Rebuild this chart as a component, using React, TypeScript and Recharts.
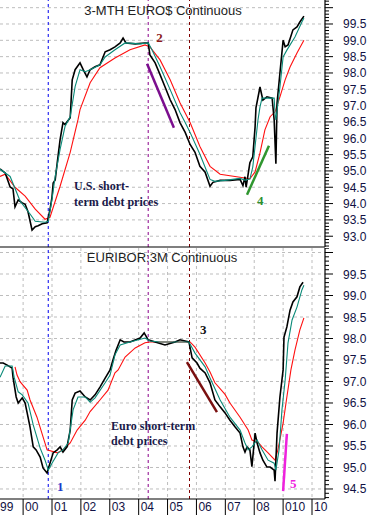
import React from 'react';
import { ComposedChart, Line, XAxis, YAxis, CartesianGrid, ReferenceLine, ReferenceDot } from 'recharts';

// ---------- data (t = decimal year, v = price) ----------
const usPrice = [
  [1999.2, 95.06], [1999.38, 94.94], [1999.55, 94.51], [1999.65, 94.45], [1999.72, 93.9], [1999.83, 94.11],
  [1999.97, 94.02], [2000.07, 93.98], [2000.17, 93.75], [2000.31, 93.19], [2000.42, 93.29], [2000.52, 93.32],
  [2000.66, 93.38], [2000.83, 93.41], [2000.93, 93.81], [2001.0, 94.2], [2001.04, 94.63], [2001.11, 94.72],
  [2001.18, 95.24], [2001.28, 95.96], [2001.38, 96.48], [2001.45, 96.42], [2001.63, 96.63], [2001.7, 97.79],
  [2001.8, 98.1], [2001.97, 98.31], [2002.08, 98.1], [2002.21, 97.88], [2002.32, 98.1], [2002.49, 98.19],
  [2002.66, 98.25], [2002.84, 98.65], [2003.01, 98.71], [2003.18, 98.8], [2003.36, 98.92], [2003.46, 99.07],
  [2003.56, 98.92], [2003.88, 98.89], [2004.22, 98.92], [2004.33, 98.92], [2004.39, 98.55], [2004.57, 98.31],
  [2004.74, 97.95], [2004.91, 97.58], [2005.09, 97.18], [2005.26, 96.88], [2005.43, 96.48], [2005.61, 96.18],
  [2005.78, 95.81], [2005.95, 95.57], [2006.12, 95.14], [2006.3, 94.96], [2006.47, 94.53], [2006.57, 94.65],
  [2006.82, 94.71], [2007.16, 94.71], [2007.51, 94.74], [2007.61, 94.55], [2007.68, 94.82], [2007.72, 94.5],
  [2007.85, 95.25], [2007.95, 95.43], [2008.03, 96.35], [2008.06, 96.93], [2008.2, 97.57], [2008.3, 97.17],
  [2008.44, 97.27], [2008.62, 97.23], [2008.69, 96.56], [2008.75, 95.22], [2008.79, 97.08], [2008.89, 98.0],
  [2009.0, 99.0], [2009.07, 98.8], [2009.17, 98.86], [2009.34, 99.32], [2009.48, 99.41], [2009.58, 99.56],
  [2009.72, 99.74],
];
const usFast = [
  [1999.2, 95.05], [1999.55, 94.83], [1999.9, 94.07], [2000.24, 93.68], [2000.42, 93.46], [2000.76, 93.43],
  [2000.87, 93.46], [2001.0, 94.13], [2001.11, 94.83], [2001.28, 95.66], [2001.45, 96.36], [2001.63, 96.66],
  [2001.8, 97.58], [2001.97, 98.1], [2002.15, 98.04], [2002.32, 98.1], [2002.66, 98.25], [2002.84, 98.49],
  [2003.18, 98.71], [2003.53, 98.92], [2004.05, 98.89], [2004.33, 98.92], [2004.46, 98.71], [2004.74, 98.19],
  [2005.09, 97.49], [2005.43, 96.79], [2005.61, 96.48], [2005.78, 96.18], [2006.12, 95.51], [2006.47, 94.74],
  [2006.64, 94.68], [2006.99, 94.71], [2007.51, 94.77], [2007.68, 94.72], [2007.85, 94.75], [2007.95, 95.12],
  [2008.13, 96.56], [2008.2, 96.96], [2008.27, 97.23], [2008.69, 97.23], [2008.72, 96.78], [2008.75, 96.56],
  [2008.89, 97.57], [2009.0, 98.49], [2009.13, 98.7], [2009.41, 99.1], [2009.65, 99.56], [2009.72, 99.68],
];
const usSlow = [
  [1999.2, 94.83], [1999.38, 94.9], [1999.72, 94.5], [2000.07, 94.23], [2000.42, 93.83], [2000.76, 93.52],
  [2000.93, 93.58], [2001.28, 94.53], [2001.63, 95.57], [2001.9, 96.57], [2001.97, 96.88], [2002.32, 97.7],
  [2002.66, 98.16], [2003.18, 98.46], [2003.7, 98.71], [2004.22, 98.86], [2004.39, 98.8], [2004.74, 98.4],
  [2005.09, 97.79], [2005.43, 97.09], [2005.78, 96.48], [2006.12, 95.75], [2006.47, 95.14], [2006.82, 94.9],
  [2007.16, 94.85], [2007.85, 94.76], [2008.03, 94.97], [2008.2, 95.55], [2008.37, 96.26], [2008.55, 96.66],
  [2008.72, 96.81], [2008.89, 97.27], [2009.07, 97.79], [2009.24, 98.18], [2009.48, 98.61], [2009.72, 99.0],
];
const euPrice = [
  [1999.2, 97.43], [1999.31, 97.43], [1999.45, 97.38], [1999.62, 97.31], [1999.65, 97.1], [1999.76, 96.64],
  [1999.83, 96.5], [1999.97, 96.62], [2000.07, 96.5], [2000.14, 96.27], [2000.24, 95.94], [2000.35, 95.48],
  [2000.45, 95.41], [2000.59, 95.24], [2000.69, 94.99], [2000.83, 94.87], [2000.93, 95.1], [2001.04, 95.34],
  [2001.18, 95.41], [2001.28, 95.48], [2001.38, 95.36], [2001.52, 95.48], [2001.63, 95.87], [2001.7, 96.57],
  [2001.8, 96.73], [2001.97, 96.78], [2002.15, 96.64], [2002.32, 96.57], [2002.49, 96.69], [2002.66, 96.87],
  [2002.84, 97.08], [2003.01, 97.27], [2003.11, 97.5], [2003.22, 97.73], [2003.36, 97.97], [2003.49, 97.92],
  [2003.7, 97.92], [2004.05, 98.01], [2004.19, 98.13], [2004.33, 97.97], [2004.57, 97.92], [2004.91, 97.85],
  [2005.26, 97.92], [2005.43, 97.97], [2005.74, 97.92], [2005.85, 97.55], [2006.02, 97.43], [2006.12, 97.31],
  [2006.3, 97.2], [2006.47, 96.97], [2006.64, 96.57], [2006.82, 96.41], [2006.99, 96.27], [2007.16, 96.1],
  [2007.34, 95.94], [2007.51, 95.8], [2007.61, 95.48], [2007.68, 95.36], [2007.75, 95.48], [2007.85, 95.41],
  [2007.92, 95.02], [2008.03, 95.8], [2008.1, 95.57], [2008.2, 95.34], [2008.3, 95.17], [2008.44, 95.01],
  [2008.55, 95.01], [2008.69, 94.94], [2008.72, 94.68], [2008.79, 95.8], [2008.89, 96.64], [2009.0, 97.27],
  [2009.03, 98.03], [2009.13, 98.27], [2009.24, 98.66], [2009.34, 98.85], [2009.48, 98.97], [2009.58, 99.2],
  [2009.69, 99.31],
];
const euFast = [
  [1999.2, 97.1], [1999.38, 97.36], [1999.62, 97.36], [1999.69, 97.1], [1999.83, 96.76], [1999.97, 96.69],
  [2000.17, 96.5], [2000.35, 95.99], [2000.59, 95.45], [2000.76, 95.17], [2000.87, 94.94], [2001.0, 95.1],
  [2001.21, 95.34], [2001.38, 95.41], [2001.56, 95.57], [2001.73, 96.34], [2001.9, 96.64], [2002.15, 96.64],
  [2002.32, 96.52], [2002.49, 96.62], [2002.84, 96.97], [2003.01, 97.15], [2003.18, 97.62], [2003.36, 97.85],
  [2003.7, 97.92], [2004.22, 98.01], [2004.39, 97.94], [2004.74, 97.92], [2005.74, 97.92], [2005.95, 97.66],
  [2006.3, 97.34], [2006.47, 97.08], [2006.82, 96.57], [2007.16, 96.17], [2007.51, 95.87], [2007.68, 95.57],
  [2007.79, 95.41], [2007.92, 95.48], [2008.1, 95.64], [2008.27, 95.41], [2008.48, 95.17], [2008.69, 95.1],
  [2008.75, 94.94], [2008.86, 95.41], [2008.96, 96.34], [2009.07, 97.03], [2009.17, 97.9], [2009.31, 98.43],
  [2009.48, 98.73], [2009.65, 99.13], [2009.72, 99.24],
];
const euSlow = [
  [1999.72, 97.34], [1999.79, 97.15], [1999.9, 96.99], [2000.14, 96.8], [2000.24, 96.57], [2000.48, 96.17],
  [2000.69, 95.71], [2000.83, 95.41], [2001.18, 95.34], [2001.38, 95.41], [2001.63, 95.57], [2001.87, 95.87],
  [2002.15, 96.1], [2002.32, 96.3], [2002.66, 96.57], [2002.94, 96.8], [2003.18, 97.2], [2003.29, 97.27],
  [2003.53, 97.57], [2003.88, 97.78], [2004.22, 97.9], [2004.39, 97.92], [2005.78, 97.92], [2005.95, 97.8],
  [2006.3, 97.43], [2006.47, 97.22], [2006.64, 96.97], [2006.99, 96.7], [2007.16, 96.5], [2007.51, 96.17],
  [2007.79, 95.87], [2007.92, 95.64], [2008.13, 95.59], [2008.27, 95.48], [2008.48, 95.34], [2008.72, 95.17],
  [2008.82, 95.41], [2009.0, 96.03], [2009.13, 96.64], [2009.27, 97.27], [2009.41, 97.73], [2009.58, 98.2],
  [2009.72, 98.48],
];

const xTicks = [1999.2, 2000, 2001, 2002, 2003, 2004, 2005, 2006, 2007, 2008, 2009, 2010];
const xTickLabels = ['99', '00', '01', '02', '03', '04', '05', '06', '07', '08', '010', '10'];
const gridYears = [2000, 2001, 2002, 2003, 2004, 2005, 2006, 2007, 2008, 2009, 2010];
const eventLines = [2000.87, 2004.33, 2005.76];
const eventColors = ['#0000ee', '#8a008a', '#800000'];

const usDomain = [92.67, 100.235];
const euDomain = [94.267, 100.105];
const usLabelRange = [93.0, 99.5];
const euLabelRange = [94.5, 99.5];

const toObj = (arr: number[][]) => arr.map(([t, v]) => ({ t, v }));

const range01 = (lo: number, hi: number) => {
  const out: number[] = [];
  for (let i = Math.ceil(lo * 10); i <= Math.floor(hi * 10); i++) out.push(i / 10);
  return out;
};
const majors = (lo: number, hi: number) => range01(lo, hi).filter((v) => Math.round(v * 10) % 5 === 0);

const X_DOMAIN = [1999.2, 2010.45];
const TXT = '#111144';
const SANS = '"Liberation Sans", Arial, sans-serif';
const SERIF = '"Liberation Serif", "Times New Roman", serif';

const makeYTick = (lo: number, hi: number) => (props: any) => {
  const { x, y, payload } = props;
  const v = payload.value;
  const major = Math.round(v * 10) % 5 === 0;
  const labeled = major && v >= lo - 1e-6 && v <= hi + 1e-6;
  return (
    <g>
      <line x1={x} y1={y} x2={x + (major ? 8 : 4)} y2={y} stroke="#000" strokeWidth={1} />
      {labeled && (
        <text x={x + 18} y={y + 4.5} fontSize={12} fontFamily={SANS} fill={TXT}>
          {v.toFixed(1)}
        </text>
      )}
    </g>
  );
};

const XTick = (props: any) => {
  const { x, y, payload } = props;
  const idx = xTicks.indexOf(payload.value);
  const first = idx === 0;
  return (
    <g>
      {!first && <line x1={x} y1={y} x2={x} y2={y + 16} stroke="#000" strokeWidth={1} />}
      <text x={first ? x : x + 2} y={y + 12} fontSize={12} fontFamily={SANS} fill={TXT}>
        {xTickLabels[idx]}
      </text>
    </g>
  );
};

const note = (t: number, v: number, text: string, color: string, size = 12) => (
  <ReferenceDot
    key={text + t}
    x={t}
    y={v}
    r={1}
    fill="none"
    stroke="none"
    isFront
    label={{ value: text, position: 'right', offset: 0, fill: color, fontSize: size, fontFamily: SERIF, fontWeight: 'bold' }}
  />
);

const seg = (t1: number, v1: number, t2: number, v2: number, color: string) => (
  <ReferenceLine
    key={color + t1}
    segment={[{ x: t1, y: v1 }, { x: t2, y: v2 }]}
    stroke={color}
    strokeWidth={2.5}
  />
);

const Panel = ({ price, fast, slow, domain, labelRange, height, bottomAxis, children }: any) => (
  <ComposedChart width={371} height={height} margin={{ top: 0, right: 0, bottom: 0, left: 0 }}>
    <CartesianGrid
      horizontalValues={majors(domain[0], domain[1])}
      verticalValues={gridYears}
      stroke="#bdbdbd"
      strokeDasharray="3 3"
    />
    <XAxis
      dataKey="t"
      type="number"
      domain={X_DOMAIN}
      allowDataOverflow
      ticks={bottomAxis ? xTicks : []}
      interval={0}
      height={bottomAxis ? 16 : 1}
      tick={bottomAxis ? <XTick /> : false}
      tickLine={false}
      tickSize={0}
      tickMargin={0}
      axisLine={{ stroke: '#000', strokeWidth: 1.2 }}
    />
    <YAxis
      orientation="right"
      type="number"
      width={46}
      domain={domain}
      allowDataOverflow
      ticks={range01(domain[0], domain[1])}
      interval={0}
      tick={makeYTick(labelRange[0], labelRange[1])}
      tickLine={false}
      tickSize={0}
      tickMargin={0}
      axisLine={{ stroke: '#000', strokeWidth: 1.2 }}
    />
    {eventLines.map((t, i) => (
      <ReferenceLine key={t} x={t} stroke={eventColors[i]} strokeDasharray="3 3" strokeWidth={1} />
    ))}
    <Line data={toObj(slow)} dataKey="v" type="linear" stroke="#ff1010" strokeWidth={1.1} dot={false} activeDot={false} isAnimationActive={false} />
    <Line data={toObj(price)} dataKey="v" type="linear" stroke="#000" strokeWidth={1.6} dot={false} activeDot={false} isAnimationActive={false} />
    <Line data={toObj(fast)} dataKey="v" type="linear" stroke="#0a8a78" strokeWidth={1.1} dot={false} activeDot={false} isAnimationActive={false} />
    {children}
  </ComposedChart>
);

export default function App() {
  return (
    <div style={{ position: 'absolute', left: 0, top: 0, width: 371, height: 515, background: '#fff', overflow: 'hidden' }}>
      <Panel price={usPrice} fast={usFast} slow={usSlow} domain={usDomain} labelRange={usLabelRange} height={248} bottomAxis={false}>
        {seg(2004.29, 98.28, 2005.22, 96.32, '#7b0e8e')}
        {seg(2007.75, 94.27, 2008.51, 95.77, '#2f962f')}
        {note(2004.57, 99.1, '2', '#8b1a1a', 13)}
        {note(2001.73, 94.54, 'U.S. short-', '#1a1a4a', 12)}
        {note(2001.73, 94.05, 'term debt prices', '#1a1a4a', 12)}
        {note(2008.06, 94.11, '4', '#2f8f2f', 13)}
      </Panel>
      <Panel price={euPrice} fast={euFast} slow={euSlow} domain={euDomain} labelRange={euLabelRange} height={267} bottomAxis>
        {seg(2005.67, 97.45, 2006.71, 96.29, '#7a1010')}
        {seg(2009.0, 94.45, 2009.13, 95.78, '#ee22dd')}
        {note(2006.09, 98.22, '3', '#111111', 13)}
        {note(2003.01, 95.97, 'Euro short-term', '#1a1a4a', 12)}
        {note(2003.01, 95.62, 'debt prices', '#1a1a4a', 12)}
        {note(2001.14, 94.55, '1', '#1a3acc', 13)}
        {note(2009.2, 94.64, '5', '#ee22dd', 13)}
      </Panel>
      <svg width={371} height={515} style={{ position: 'absolute', left: 0, top: 0, pointerEvents: 'none' }}>
        <text x={163} y={15} textAnchor="middle" fontSize={13} fontFamily={SANS} fill="#222">3-MTH EURO$ Continuous</text>
        <text x={162} y={262} textAnchor="middle" fontSize={13} fontFamily={SANS} fill="#222">EURIBOR:3M Continuous</text>
      </svg>
    </div>
  );
}
